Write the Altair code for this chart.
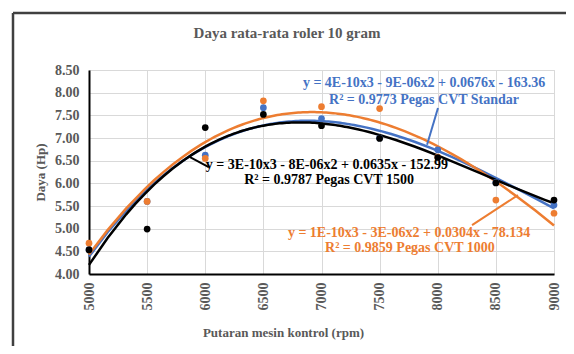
import altair as alt
import pandas as pd

rpm = [5000, 5500, 6000, 6500, 7000, 7500, 8000, 8500, 9000]
standar = [4.54, 5.60, 6.62, 7.67, 7.43, 7.00, 6.74, 6.02, 5.52]
cvt1000 = [4.68, 5.60, 6.55, 7.82, 7.69, 7.65, 6.58, 5.63, 5.34]
cvt1500 = [4.53, 4.99, 7.23, 7.52, 7.27, 6.99, 6.57, 6.01, 5.63]

series_names = ["Pegas CVT Standar", "Pegas CVT 1000", "Pegas CVT 1500"]
series_colors = ["#4472C4", "#ED7D31", "#000000"]

x_ticks = rpm
y_ticks = [4.0, 4.5, 5.0, 5.5, 6.0, 6.5, 7.0, 7.5, 8.0, 8.5]

chart_title = "Daya rata-rata roler 10 gram"

ann_text = [
    "y = 4E-10x3 - 9E-06x2 + 0.0676x - 163.36",
    "R² = 0.9773 Pegas CVT Standar",
    "y = 3E-10x3 - 8E-06x2 + 0.0635x - 152.99",
    "R² = 0.9787 Pegas CVT 1500",
    "y = 1E-10x3 - 3E-06x2 + 0.0304x - 78.134",
    "R² = 0.9859 Pegas CVT 1000",
]
ann_x = [7882, 7882, 7047, 7065, 7753, 7761]
ann_y = [8.21, 7.84, 6.40, 6.07, 4.90, 4.57]
ann_color = ["#4472C4", "#4472C4", "#000000", "#000000", "#ED7D31", "#ED7D31"]

lead_x = [7908, 8295, 5869]
lead_y = [6.85, 5.08, 6.58]
lead_x2 = [8002, 8690, 6030]
lead_y2 = [7.66, 5.74, 6.36]
lead_color = ["#4472C4", "#ED7D31", "#000000"]

rows = []
for k, (name, vals) in enumerate(zip(series_names, [standar, cvt1000, cvt1500])):
    for r, v in zip(rpm, vals):
        rows.append({"rpm": r, "daya": v, "series": name, "rank": k})
df = pd.DataFrame(rows)

ann_df = pd.DataFrame({"text": ann_text, "x": ann_x, "y": ann_y, "c": ann_color})
lead_df = pd.DataFrame({"x": lead_x, "y": lead_y, "x2": lead_x2, "y2": lead_y2, "c": lead_color})

FONT = "Liberation Serif"
GRAY = "#595959"

xscale = alt.Scale(domain=[5000, 9000], nice=False, zero=False)
yscale = alt.Scale(domain=[4.0, 8.5], nice=False, zero=False)
color = alt.Color("series:N", scale=alt.Scale(domain=series_names, range=series_colors), legend=None)

xaxis = alt.Axis(
    values=x_ticks, labelAngle=270, format="d", title="Putaran mesin kontrol (rpm)",
    labelFont=FONT, labelFontSize=14, labelFontWeight="bold", labelColor=GRAY,
    titleFont=FONT, titleFontSize=13, titleFontWeight="bold", titleColor=GRAY,
    titleX=194, titleY=58, titleBaseline="middle", titleAnchor="middle",
    ticks=False, labelPadding=8, grid=True, gridColor="#d9d9d9",
    domainColor="#000000", domainWidth=2, labelOverlap=False,
)
yaxis = alt.Axis(
    values=y_ticks, format=".2f", title="Daya (Hp)",
    labelFont=FONT, labelFontSize=14, labelFontWeight="bold", labelColor=GRAY,
    titleFont=FONT, titleFontSize=13, titleFontWeight="bold", titleColor=GRAY,
    titleX=-49, titleY=102, titleAngle=270, titleBaseline="middle", titleAnchor="middle",
    ticks=False, labelPadding=10, grid=True, gridColor="#d9d9d9",
    domainColor="#000000", domainWidth=2, labelOverlap=False,
)

base = alt.Chart(df)

lines = base.transform_regression(
    "rpm", "daya", groupby=["series"], method="poly", order=3
).mark_line(strokeWidth=2.5).encode(
    x=alt.X("rpm:Q", scale=xscale, axis=xaxis),
    y=alt.Y("daya:Q", scale=yscale, axis=yaxis),
    color=color,
    detail="series:N",
)

points = base.mark_point(filled=True, size=45, opacity=1).encode(
    x=alt.X("rpm:Q", scale=xscale, axis=xaxis),
    y=alt.Y("daya:Q", scale=yscale, axis=yaxis),
    color=color,
    order=alt.Order("rank:Q"),
)

leaders = alt.Chart(lead_df).mark_rule(strokeWidth=2).encode(
    x=alt.X("x:Q", scale=xscale, axis=xaxis), y=alt.Y("y:Q", scale=yscale, axis=yaxis),
    x2="x2:Q", y2="y2:Q",
    color=alt.Color("c:N", scale=None),
)

texts = alt.Chart(ann_df).mark_text(
    font=FONT, fontSize=14, fontWeight="bold", align="center", baseline="middle"
).encode(
    x=alt.X("x:Q", scale=xscale, axis=xaxis), y=alt.Y("y:Q", scale=yscale, axis=yaxis),
    text="text:N",
    color=alt.Color("c:N", scale=None),
)

title_mark = alt.Chart(pd.DataFrame({"t": [chart_title]})).mark_text(
    font=FONT, fontSize=15, fontWeight="bold", color=GRAY, align="center", baseline="middle"
).encode(x=alt.value(198), y=alt.value(-37), text="t:N")

border_v = alt.Chart(pd.DataFrame({"a": [0]})).mark_rule(color="#404040", strokeWidth=2.5).encode(
    x=alt.value(-76), y=alt.value(-57), y2=alt.value(400)
)
border_h = alt.Chart(pd.DataFrame({"a": [0]})).mark_rule(color="#404040", strokeWidth=2.5).encode(
    x=alt.value(-76), x2=alt.value(600), y=alt.value(-57)
)

chart = alt.layer(lines, points, leaders, texts, title_mark, border_v, border_h).properties(
    width=465, height=204,
    autosize=alt.AutoSizeParams(type="none"),
    padding={"left": 81, "top": 62, "right": 12, "bottom": 72},
).configure_view(stroke="#000000", strokeWidth=2).configure(background="white")

chart.save("out.html", embed_options={"renderer": "svg", "actions": False})
